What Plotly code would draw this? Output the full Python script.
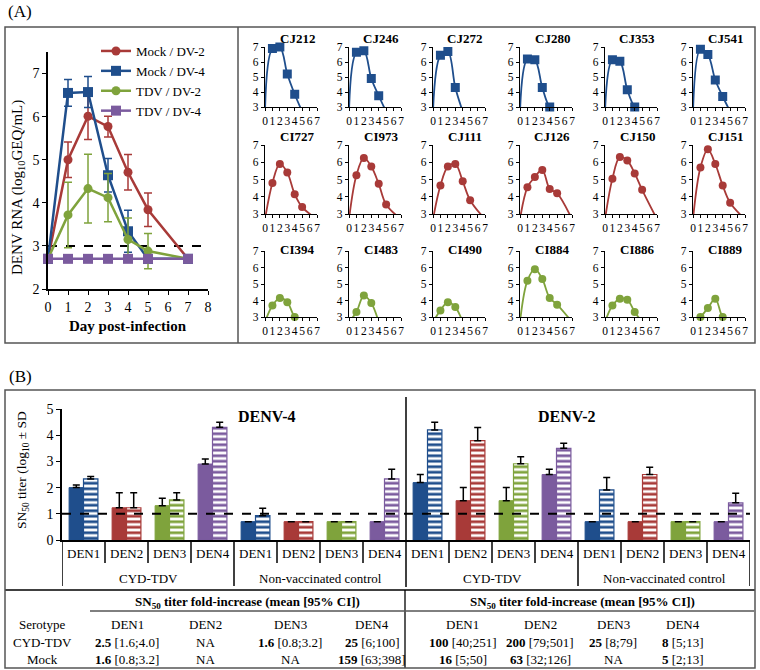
import plotly.graph_objects as go

W, H = 760, 670
FONT = "Liberation Serif"

RED = "#A83A38"
BLUE = "#1F4E8C"
GREEN = "#7FA33C"
PURPLE = "#7B5B9E"

# (A) mean viraemia, log10 GEQ/mL (2.7 = below detection)
days = [0, 1, 2, 3, 4, 5, 7]
mock_dv2 = [2.7, 5.0, 6.01, 5.77, 4.71, 3.84, 2.7]
mock_dv2_err = [0, 0.41, 0.54, 0.24, 0.41, 0.39, 0]
mock_dv4 = [2.7, 6.55, 6.57, 4.64, 3.34, 2.7, 2.7]
mock_dv4_err = [0, 0.31, 0.36, 0.39, 0.49, 0, 0]
tdv_dv2 = [2.7, 3.72, 4.33, 4.12, 3.15, 2.88, 2.7]
tdv_dv2_err = [0, 0.76, 0.8, 0.56, 0.5, 0.41, 0]
tdv_dv4 = [2.7, 2.7, 2.7, 2.7, 2.7, 2.7, 2.7]
lod_rna = 3

# (A) individual profiles
sm_names = ["CJ212", "CJ246", "CJ272", "CJ280", "CJ353", "CJ541",
            "CI727", "CI973", "CJ111", "CJ126", "CJ150", "CJ151",
            "CI394", "CI483", "CI490", "CI884", "CI886", "CI889"]
sm_rows = ["Mock / DV-4", "Mock / DV-2", "TDV / DV-2"]
sm_days = [
    [0, 1, 2, 3, 4, 5], [0, 1, 2, 3, 4, 5], [0, 1, 2, 3, 4],
    [0, 1, 2, 3, 4, 5], [0, 1, 2, 3, 4, 5], [0, 1, 2, 3, 4, 5],
    [0, 1, 2, 3, 4, 5, 7], [0, 1, 2, 3, 4, 5, 7], [0, 1, 2, 3, 4, 5, 7],
    [0, 1, 2, 3, 4, 5, 7], [0, 1, 2, 3, 4, 5, 7], [0, 1, 2, 3, 4, 5, 7],
    [0, 1, 2, 3, 4, 5], [0, 1, 2, 3, 4], [0, 1, 2, 3, 4],
    [0, 1, 2, 3, 4, 5, 7], [0, 1, 2, 3, 4, 5], [0, 1, 2, 3, 4, 5],
]
sm_values = [
    [2.7, 6.9, 7.0, 5.2, 3.85, 2.7], [2.7, 6.65, 6.75, 4.9, 3.75, 2.7], [2.7, 6.45, 6.7, 4.3, 2.7],
    [2.7, 6.2, 6.15, 4.3, 3.0, 2.7], [2.7, 6.15, 6.05, 4.15, 3.0, 2.7], [2.7, 6.85, 6.5, 4.8, 3.7, 2.7],
    [2.7, 4.8, 5.9, 5.4, 4.15, 3.4, 2.7], [2.7, 5.25, 6.25, 5.75, 4.75, 3.55, 2.7],
    [2.7, 4.65, 5.75, 5.9, 4.9, 3.8, 2.7], [2.7, 4.55, 5.15, 5.55, 4.45, 4.2, 2.7],
    [2.7, 5.05, 6.3, 6.1, 5.35, 4.4, 2.7], [2.7, 5.7, 6.75, 5.9, 4.65, 3.65, 2.7],
    [2.7, 3.7, 4.15, 3.9, 3.0, 2.7], [2.7, 3.3, 4.3, 3.85, 2.7], [2.7, 3.4, 3.9, 3.6, 2.7],
    [2.7, 5.2, 5.9, 5.3, 4.15, 3.75, 2.7], [2.7, 3.7, 4.1, 4.05, 3.3, 2.7], [2.7, 3.0, 3.55, 4.1, 3.0, 2.7],
]

# (B) SN50 titres, log10 (pre = solid, post = striped)
challenges = ["DENV-4", "DENV-2"]
groups = ["CYD-TDV", "Non-vaccinated control"]
serotypes = ["DEN1", "DEN2", "DEN3", "DEN4"]
pre_titer = [2.0, 1.23, 1.31, 2.9, 0.7, 0.7, 0.7, 0.7,
             2.19, 1.5, 1.5, 2.5, 0.7, 0.7, 0.7, 0.7]
pre_sd = [0.1, 0.57, 0.28, 0.19, 0, 0, 0, 0,
          0.31, 0.5, 0.5, 0.2, 0, 0, 0, 0]
post_titer = [2.33, 1.23, 1.53, 4.3, 0.93, 0.7, 0.7, 2.33,
              4.2, 3.79, 2.91, 3.5, 1.91, 2.5, 0.7, 1.42]
post_sd = [0.09, 0.57, 0.27, 0.19, 0.28, 0, 0, 0.37,
           0.29, 0.5, 0.27, 0.19, 0.48, 0.28, 0, 0.36]
lod_titer = 1

# (B) fold-increase table
table_rows = ["CYD-TDV", "Mock"]
fold_dv4 = [["<b>2.5</b> [1.6;4.0]", "NA", "<b>1.6</b> [0.8;3.2]", "<b>25</b> [6;100]"],
            ["<b>1.6</b> [0.8;3.2]", "NA", "NA", "<b>159</b> [63;398]"]]
fold_dv2 = [["<b>100</b> [40;251]", "<b>200</b> [79;501]", "<b>25</b> [8;79]", "<b>8</b> [5;13]"],
            ["<b>16</b> [5;50]", "<b>63</b> [32;126]", "NA", "<b>5</b> [2;13]"]]


def px(x):
    return x / W


def py(y):
    return 1 - y / H


styles = {"Mock / DV-2": (RED, "circle"), "Mock / DV-4": (BLUE, "square"),
          "TDV / DV-2": (GREEN, "circle"), "TDV / DV-4": (PURPLE, "square")}
sero_colors = {"DEN1": BLUE, "DEN2": RED, "DEN3": GREEN, "DEN4": PURPLE}

fig = go.Figure()
layout = {}
shapes = []
annotations = []


def line(x0, y0, x1, y1, width=1.5, color="black", dash=None):
    shapes.append(dict(type="line", xref="paper", yref="paper", x0=px(x0), y0=py(y0),
                       x1=px(x1), y1=py(y1), line=dict(color=color, width=width, dash=dash)))


def label(text, x, y, size=13, **kw):
    annotations.append(dict(text=text, x=px(x), y=py(y), xref="paper", yref="paper",
                            xanchor="center", yanchor="middle", showarrow=False,
                            font=dict(size=size, color="black"), **kw))


# ---------- (A) mean chart
for name, vals, err in [("Mock / DV-2", mock_dv2, mock_dv2_err), ("Mock / DV-4", mock_dv4, mock_dv4_err),
                        ("TDV / DV-2", tdv_dv2, tdv_dv2_err), ("TDV / DV-4", tdv_dv4, [0] * 7)]:
    color, symbol = styles[name]
    fig.add_trace(go.Scatter(
        x=days, y=vals, name=name, mode="lines+markers",
        line=dict(color=color, width=2.5),
        marker=dict(color=color, symbol=symbol, size=10 if symbol == "square" else 9),
        error_y=dict(type="data", array=err, color=color, thickness=1.5, width=4),
        xaxis="x", yaxis="y", cliponaxis=False,
    ))

main_axis = dict(showline=True, linecolor="black", linewidth=1.5, ticks="outside", ticklen=4,
                 tickcolor="black", showgrid=False, zeroline=False, tickfont=dict(size=14), tickangle=0)
layout["xaxis"] = dict(domain=[px(48), px(208)], range=[0, 8], anchor="y",
                       tickvals=list(range(9)), **main_axis)
layout["yaxis"] = dict(domain=[py(289), py(52)], range=[2, 7.5], anchor="x",
                       tickvals=[2, 3, 4, 5, 6, 7], **main_axis)
shapes.append(dict(type="line", xref="x", yref="y", x0=0, x1=8, y0=lod_rna, y1=lod_rna,
                   line=dict(color="black", width=2, dash="dash"), layer="below"))
label("DENV RNA (log<sub>10</sub>GEQ/mL)", 18, 188, size=15, textangle=-90)
label("<b>Day post-infection</b>", 128, 326, size=15)

# ---------- (A) individual panels
col_x = [265, 349, 433, 520, 605, 693]
row_top = [47, 145, 251]
row_bot = [107, 214, 317]
title_y = [39, 137, 250]
sm_axis = dict(showline=True, linecolor="black", linewidth=1.3, ticks="outside", ticklen=3,
               tickcolor="black", showgrid=False, zeroline=False, tickfont=dict(size=11.5), tickangle=0)

for i, name in enumerate(sm_names):
    r, c = divmod(i, 6)
    k = i + 2
    color, symbol = styles[sm_rows[r]]
    xa, ya = f"x{k}", f"y{k}"
    fig.add_trace(go.Scatter(x=sm_days[i], y=sm_values[i], mode="lines",
                             line=dict(color=color, width=1.8, shape="spline"),
                             xaxis=xa, yaxis=ya, showlegend=False, hoverinfo="skip"))
    det = [(d, v) for d, v in zip(sm_days[i], sm_values[i]) if v >= lod_rna]
    fig.add_trace(go.Scatter(x=[d for d, v in det], y=[v for d, v in det], mode="markers",
                             marker=dict(color=color, symbol=symbol, size=9 if symbol == "square" else 8),
                             xaxis=xa, yaxis=ya, showlegend=False, cliponaxis=False))
    layout[f"xaxis{k}"] = dict(domain=[px(col_x[c]), px(col_x[c] + 52)], range=[0, 7], anchor=ya,
                               tickvals=list(range(8)), **sm_axis)
    layout[f"yaxis{k}"] = dict(domain=[py(row_bot[r]), py(row_top[r])], range=[3, 7], anchor=xa,
                               tickvals=[3, 4, 5, 6, 7], **sm_axis)
    label(f"<b>{name}</b>", col_x[c] + 32, title_y[r], size=13)

# ---------- (B) bar chart
keys = [f"{ch}|{g}|{s}" for ch in challenges for g in groups for s in serotypes]
bar_colors = [sero_colors[s] for ch in challenges for g in groups for s in serotypes]
n = len(keys)
fig.add_trace(go.Bar(
    x=keys, y=pre_titer, xaxis="x20", yaxis="y20", showlegend=False,
    marker=dict(color=bar_colors, line=dict(color=bar_colors, width=1)),
    error_y=dict(type="data", array=pre_sd, arrayminus=[0] * n, symmetric=False,
                 color="black", thickness=1.5, width=3.5),
))
fig.add_trace(go.Bar(
    x=keys, y=post_titer, xaxis="x20", yaxis="y20", showlegend=False,
    marker=dict(color=bar_colors, line=dict(color=bar_colors, width=1.2),
                pattern=dict(shape="-", fillmode="replace", bgcolor=bar_colors,
                             fgcolor=["white"] * n, fgopacity=1, size=5.5, solidity=0.5)),
    error_y=dict(type="data", array=post_sd, arrayminus=[0] * n, symmetric=False,
                 color="black", thickness=1.5, width=3.5),
))
layout["xaxis20"] = dict(domain=[px(62), px(750)], anchor="y20", type="category",
                         categoryorder="array", categoryarray=keys, range=[-0.5, n - 0.5],
                         showticklabels=False, ticks="", showline=True, linecolor="black",
                         linewidth=1.5, showgrid=False, zeroline=False)
layout["yaxis20"] = dict(domain=[py(540), py(409)], range=[0, 5], anchor="x20",
                         tickvals=[0, 1, 2, 3, 4, 5], **main_axis)
shapes.append(dict(type="line", xref="x20 domain", yref="y20", x0=0, x1=1, y0=lod_titer, y1=lod_titer,
                   line=dict(color="black", width=2, dash="dash")))
label("SN<sub>50</sub> titer (log<sub>10</sub> ± SD", 22, 470, size=13.5, textangle=-90)

for b in range(n + 1):
    xb = b - 0.5
    if b == n // 2:
        y0, y1 = 397, 587
    elif b % len(serotypes) == 0:
        y0, y1 = 540, 586
    else:
        y0, y1 = 540, 563
    shapes.append(dict(type="line", xref="x20", yref="paper", x0=xb, x1=xb, y0=py(y0), y1=py(y1),
                       line=dict(color="black", width=1.5)))

for i, key in enumerate(keys):
    annotations.append(dict(text=key.split("|")[2], x=i, y=py(553), xref="x20", yref="paper",
                            xanchor="center", yanchor="middle", showarrow=False,
                            font=dict(size=13, color="black")))
for j in range(len(challenges) * len(groups)):
    annotations.append(dict(text=groups[j % 2], x=j * 4 + 1.5, y=py(578), xref="x20", yref="paper",
                            xanchor="center", yanchor="middle", showarrow=False,
                            font=dict(size=13, color="black")))
label("<b>DENV-4</b>", 266, 416, size=16)
label("<b>DENV-2</b>", 566, 416, size=16)

# ---------- (B) table
line(5, 590, 755, 590, width=1.5)
line(405, 590, 405, 668, width=1.3)
line(90, 611, 404, 611, width=1)
line(406, 611, 754, 611, width=1)
label("<b>SN<sub>50</sub> titer fold-increase (mean [95% CI])</b>", 247, 602, size=13)
label("<b>SN<sub>50</sub> titer fold-increase (mean [95% CI])</b>", 582, 602, size=13)
label("Serotype", 42, 624)
left_x = [127, 205, 290, 372]
right_x = [463, 540, 613, 683]
for s, lx, rx in zip(serotypes, left_x, right_x):
    label(s, lx, 624)
    label(s, rx, 624)
for r, (name, ry) in enumerate(zip(table_rows, [642, 659])):
    label(name, 42, ry)
    for c in range(len(serotypes)):
        label(fold_dv4[r][c], left_x[c], ry)
        label(fold_dv2[r][c], right_x[c], ry)

# ---------- frames and panel labels
shapes.append(dict(type="rect", xref="paper", yref="paper", x0=px(5), y0=py(343), x1=px(755), y1=py(27),
                   line=dict(color="#555555", width=1.5)))
line(238, 27, 238, 343, width=1.5, color="#555555")
shapes.append(dict(type="rect", xref="paper", yref="paper", x0=px(5), y0=py(668), x1=px(755), y1=py(390),
                   line=dict(color="#555555", width=1.5)))
label("(A)", 20, 11, size=17)
label("(B)", 20, 376, size=17)

fig.update_layout(
    width=W, height=H, autosize=False,
    margin=dict(l=0, r=0, t=0, b=0, autoexpand=False),
    paper_bgcolor="white", plot_bgcolor="white",
    font=dict(family=FONT, color="black"),
    barmode="group", bargap=0.33, bargroupgap=0,
    showlegend=True,
    legend=dict(x=px(96), y=py(36), xanchor="left", yanchor="top", bgcolor="rgba(0,0,0,0)",
                font=dict(size=13), tracegroupgap=0),
    shapes=shapes, annotations=annotations,
    **layout,
)

fig.write_html("out.html", config={"displayModeBar": False},
               post_script="document.body.style.margin = '0';")
